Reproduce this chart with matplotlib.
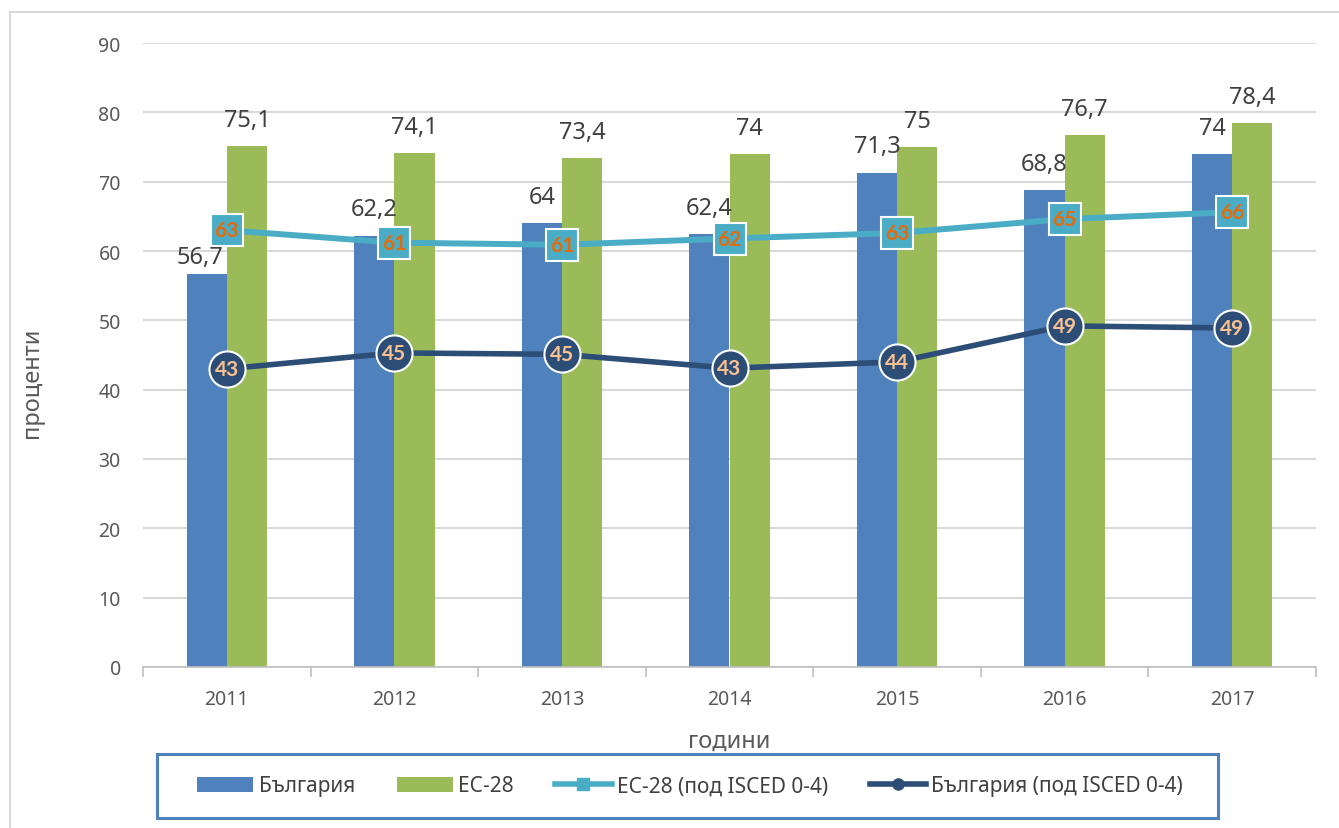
import numpy as np
import matplotlib.pyplot as plt
from matplotlib.lines import Line2D
from matplotlib.patches import Rectangle

# данни
years = ['2011', '2012', '2013', '2014', '2015', '2016', '2017']
bulgaria = [56.7, 62.2, 64.0, 62.4, 71.3, 68.8, 74.0]
eu28 = [75.1, 74.1, 73.4, 74.0, 75.0, 76.7, 78.4]
eu28_isced = [63.0, 61.2, 60.9, 61.8, 62.6, 64.6, 65.6]
bulgaria_isced = [43.0, 45.3, 45.1, 43.1, 44.0, 49.2, 48.9]

plt.rcParams['font.family'] = ['Noto Sans', 'DejaVu Sans']

BLUE = '#4F81BD'
GREEN = '#9BBB59'
LIGHT = '#4BACC6'
DARK = '#2C4D75'
GRID = '#D9D9D9'
TXT = '#595959'
BOLD_FONT = ['Lato', 'DejaVu Sans']

fig = plt.figure(figsize=(13.39, 8.29), dpi=100)
ax = fig.add_axes([143 / 1339, 1 - 668 / 829, 1173 / 1339, 624 / 829])

x = np.arange(len(years))
w = 0.24
b1 = ax.bar(x - w / 2, bulgaria, w, color=BLUE, label='България', zorder=2)
b2 = ax.bar(x + w / 2, eu28, w, color=GREEN, label='ЕС-28', zorder=2)

# етикетът 56,7 е преместен малко надолу и наляво, както в оригинала
shift = {(0, 0): (-5, 12)}
for k, (bars, vals) in enumerate(((b1, bulgaria), (b2, eu28))):
    for i, (r, v) in enumerate(zip(bars, vals)):
        txt = f'{v:g}'.replace('.', ',')
        dx, dy = shift.get((k, i), (0, 19))
        ax.annotate(txt, (r.get_x() + r.get_width() / 2, v), xytext=(dx, dy),
                    textcoords='offset points', ha='center', va='center',
                    fontsize=17, color='#404040', zorder=5)

ax.plot(x, eu28_isced, color=LIGHT, lw=4.3, marker='s', markersize=23,
        markerfacecolor=LIGHT, markeredgecolor='white', markeredgewidth=1.5, zorder=3)
ax.plot(x, bulgaria_isced, color=DARK, lw=4, marker='o', markersize=26,
        markerfacecolor=DARK, markeredgecolor='white', markeredgewidth=1.5, zorder=3)

for xi, v in zip(x, eu28_isced):
    ax.text(xi, v, f'{v:.0f}', ha='center', va='center', fontsize=15,
            fontweight='bold', family=BOLD_FONT, color='#E36C09', zorder=6)
for xi, v in zip(x, bulgaria_isced):
    ax.text(xi, v, f'{v:.0f}', ha='center', va='center', fontsize=15,
            fontweight='bold', family=BOLD_FONT, color='#FAC090', zorder=6)

ax.set_xlim(-0.5, len(years) - 0.5)
ax.set_ylim(0, 90)
ax.set_yticks(range(0, 91, 10))
ax.set_xticks(x)
ax.set_xticklabels(years)
ax.set_xticks(np.arange(-0.5, len(years), 1), minor=True)
ax.tick_params(axis='x', which='major', length=0, pad=16, labelsize=14, labelcolor=TXT)
ax.tick_params(axis='x', which='minor', length=7, width=1.2, color='#BFBFBF')
ax.tick_params(axis='y', length=0, pad=16, labelsize=14, labelcolor=TXT)
ax.grid(axis='y', color=GRID, lw=1.5, zorder=0)
ax.set_axisbelow(True)
for s in ('top', 'right', 'left'):
    ax.spines[s].set_visible(False)
ax.spines['bottom'].set_color('#BFBFBF')
ax.spines['bottom'].set_linewidth(1.2)

ax.set_xlabel('години', fontsize=17, color=TXT, labelpad=14)
ax.set_ylabel('проценти', fontsize=17, color=TXT)
ax.yaxis.set_label_coords(-0.084, 0.457)

# легенда
h3 = Line2D([], [], color=LIGHT, lw=4, marker='s', markersize=8)
h4 = Line2D([], [], color=DARK, lw=4, marker='o', markersize=8)
fig.legend([b1, b2, h3, h4],
           ['България', 'ЕС-28', 'ЕС-28 (под ISCED 0-4)', 'България (под ISCED 0-4)'],
           loc='center', bbox_to_anchor=(690 / 1339, 1 - 787 / 829), ncol=4,
           frameon=False, fontsize=15, handlelength=2.7, handletextpad=0.25,
           columnspacing=2.0, labelcolor='#404040')
fig.add_artist(Rectangle((157 / 1339, 1 - 819 / 829), 1061 / 1339, 64 / 829,
                         transform=fig.transFigure, fill=False, edgecolor=BLUE, lw=2.2))

# рамка на диаграмата
fig.add_artist(Line2D([10 / 1339, 1], [1 - 13 / 829, 1 - 13 / 829],
                      transform=fig.transFigure, color=GRID, lw=1.5))
fig.add_artist(Line2D([10 / 1339, 10 / 1339], [0, 1 - 13 / 829],
                      transform=fig.transFigure, color=GRID, lw=1.5))

fig.savefig('out.png', dpi=100)
